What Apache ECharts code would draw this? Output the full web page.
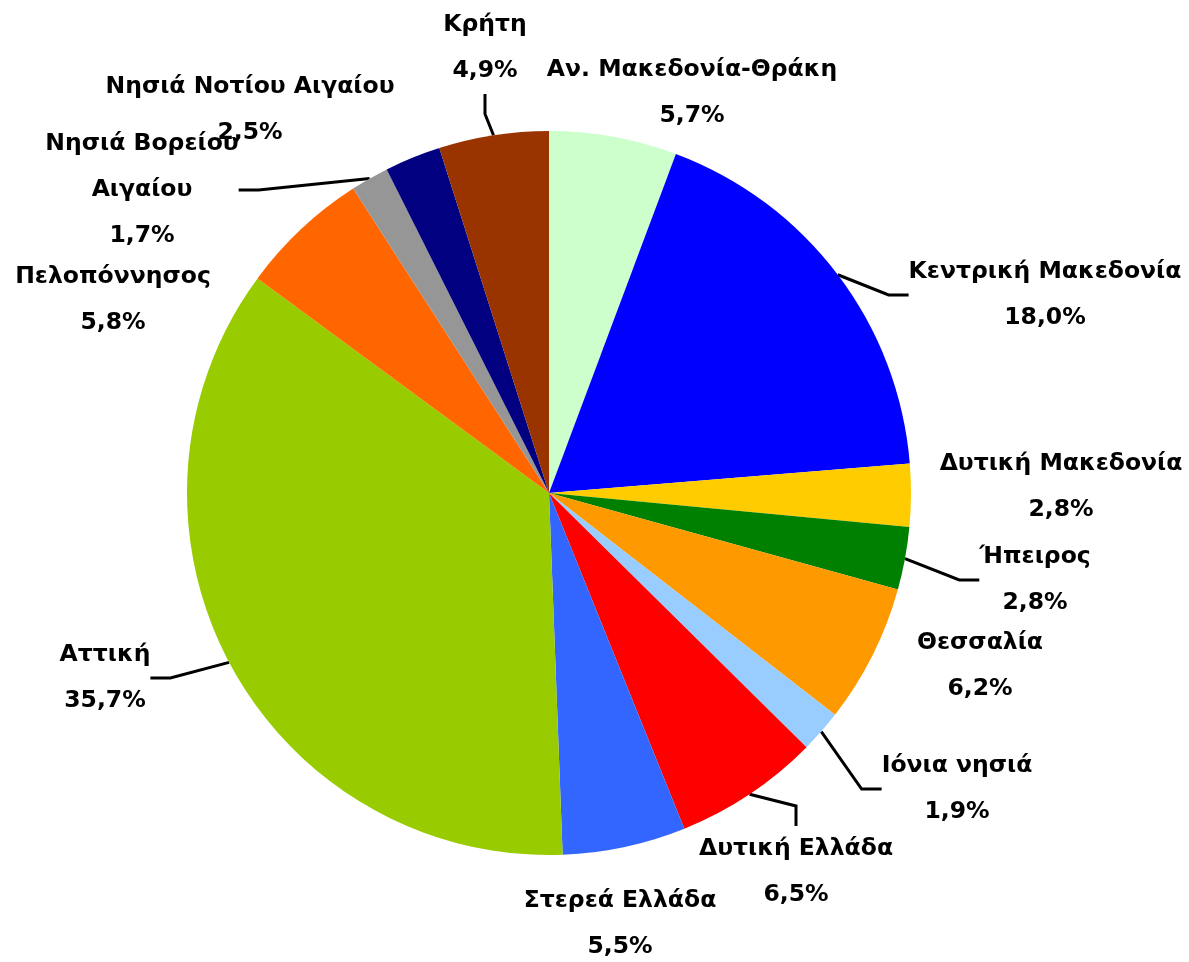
<!DOCTYPE html>
<html><head><meta charset="utf-8">
<script src="https://cdn.jsdelivr.net/npm/echarts@6/dist/echarts.min.js"></script>
<style>html,body{margin:0;padding:0;background:#fff}#c{width:1189px;height:962px}</style>
</head><body><div id="c"></div>
<script>
const regions = ['Αν. Μακεδονία-Θράκη','Κεντρική Μακεδονία','Δυτική Μακεδονία','Ήπειρος','Θεσσαλία','Ιόνια νησιά','Δυτική Ελλάδα','Στερεά Ελλάδα','Αττική','Πελοπόννησος','Νησιά Βορείου Αιγαίου','Νησιά Νοτίου Αιγαίου','Κρήτη'];
const shares = [5.7, 18.0, 2.8, 2.8, 6.2, 1.9, 6.5, 5.5, 35.7, 5.8, 1.7, 2.5, 4.9];
const colors = ['#CCFFCC','#0000FF','#FFCC00','#008000','#FF9900','#99CCFF','#FF0000','#3366FF','#99CC00','#FF6600','#969696','#000080','#993300'];
// label layout (centre of each label block) and whether a leader line is drawn
const labelCentres = [[692,93],[1045,295],[1061,487],[1035,580],[980,666],[957,789],[796,872],[620,924],[105,678],[113,300],[142,190],[250,110],[485,48]];
const showLine = [false,true,false,true,false,true,true,false,true,false,true,false,true];

const chart = echarts.init(document.getElementById('c'));
chart.setOption({
  animation: false,
  series: [{
    type: 'pie',
    center: [549, 493],
    radius: 362,
    startAngle: 90,
    clockwise: true,
    avoidLabelOverlap: false,
    data: regions.map((n, i) => ({
      name: n, value: shares[i],
      itemStyle: { color: colors[i] },
      labelLine: { show: showLine[i] }
    })),
    label: {
      show: true,
      position: 'outside',
      fontFamily: 'DejaVu Sans',
      fontWeight: 'bold',
      fontSize: 23.5,
      lineHeight: 46,
      color: '#000',
      align: 'center',
      formatter: p => {
        const nm = p.name === 'Νησιά Βορείου Αιγαίου' ? 'Νησιά Βορείου\nΑιγαίου' : p.name;
        return nm + '\n' + p.value.toFixed(1).replace('.', ',') + '%';
      }
    },
    labelLine: { show: true, length: 15, length2: 20, lineStyle: { color: '#000', width: 3 } },
    labelLayout: p => ({
      x: labelCentres[p.dataIndex][0],
      y: labelCentres[p.dataIndex][1],
      align: 'center',
      verticalAlign: 'middle'
    })
  }]
});
</script></body></html>
